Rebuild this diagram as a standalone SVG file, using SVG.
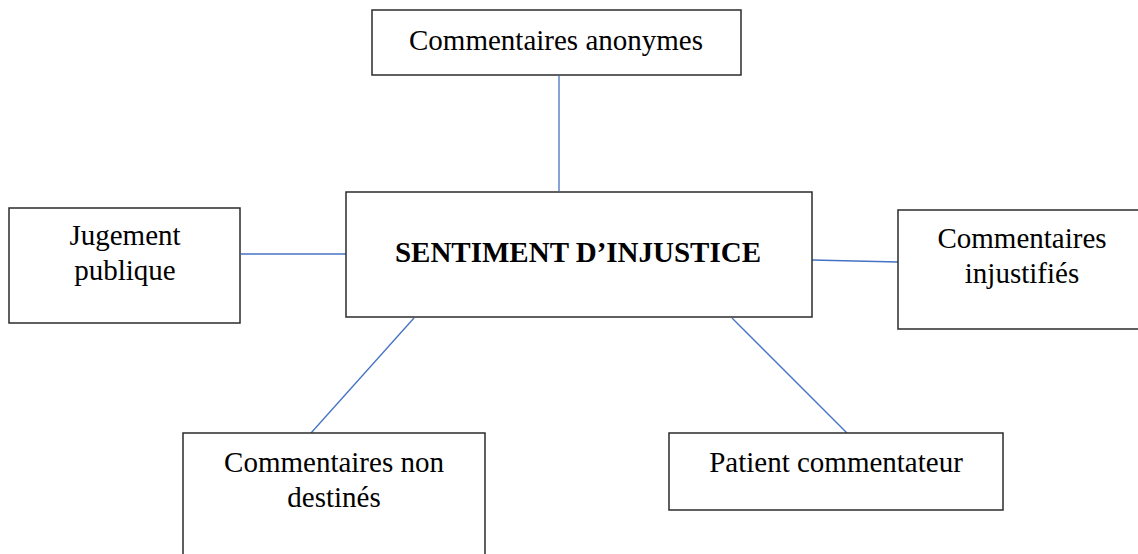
<svg xmlns="http://www.w3.org/2000/svg" width="1138" height="554" viewBox="0 0 1138 554">
<style>
.box{fill:#fff;stroke:#2b2b2b;stroke-width:1.5}
.t{font-family:"Liberation Serif","Times New Roman",serif;font-size:29px;fill:#000;text-anchor:middle}
.b{font-weight:bold}
.c{stroke:#4472C4;stroke-width:1.3;fill:none}
</style>
<rect width="1138" height="554" fill="#fff"/>
<g id="connectors">
<line class="c" x1="559" y1="76" x2="559" y2="191"/>
<line class="c" x1="241" y1="254" x2="346" y2="254"/>
<line class="c" x1="812" y1="260" x2="898" y2="262"/>
<line class="c" x1="414" y1="318" x2="311" y2="433"/>
<line class="c" x1="732" y1="318" x2="847" y2="433"/>
</g>
<g id="center">
<rect class="box" x="346" y="192" width="466" height="125"/>
<text class="t b" x="578" y="262">SENTIMENT D’INJUSTICE</text>
</g>
<g id="anonymes">
<rect class="box" x="372" y="10" width="369" height="65"/>
<text class="t" x="556" y="50">Commentaires anonymes</text>
</g>
<g id="jugement">
<rect class="box" x="9" y="208" width="231" height="115"/>
<text class="t" x="125" y="245">Jugement</text>
<text class="t" x="125" y="280">publique</text>
</g>
<g id="injustifies">
<rect class="box" x="898" y="210" width="242" height="119"/>
<text class="t" x="1022" y="248">Commentaires</text>
<text class="t" x="1022" y="283">injustifiés</text>
</g>
<g id="nondestines">
<rect class="box" x="183" y="433" width="302" height="130"/>
<text class="t" x="334" y="472">Commentaires non</text>
<text class="t" x="334" y="507">destinés</text>
</g>
<g id="patient">
<rect class="box" x="669" y="433" width="334" height="77"/>
<text class="t" x="836" y="472">Patient commentateur</text>
</g>
</svg>
